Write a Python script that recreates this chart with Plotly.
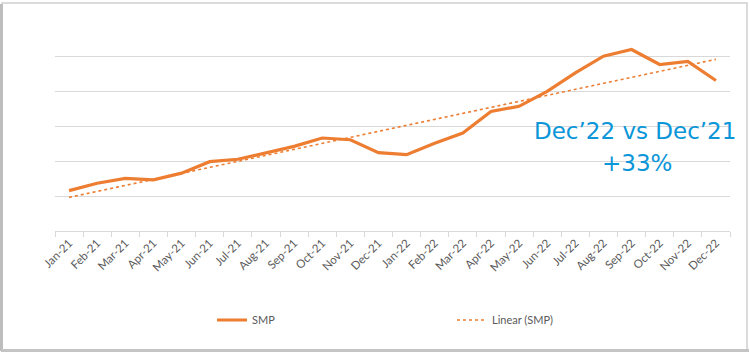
import numpy as np
import plotly.graph_objects as go

months = ["Jan-21", "Feb-21", "Mar-21", "Apr-21", "May-21", "Jun-21", "Jul-21", "Aug-21",
          "Sep-21", "Oct-21", "Nov-21", "Dec-21", "Jan-22", "Feb-22", "Mar-22", "Apr-22",
          "May-22", "Jun-22", "Jul-22", "Aug-22", "Sep-22", "Oct-22", "Nov-22", "Dec-22"]
smp = [1.16, 1.37, 1.51, 1.47, 1.66, 1.99, 2.06, 2.24, 2.43, 2.67, 2.62, 2.25,
       2.19, 2.52, 2.81, 3.43, 3.58, 4.01, 4.54, 5.02, 5.21, 4.78, 4.87, 4.32]
annotation_lines = ["Dec\u201922 vs Dec\u201921", "+33%"]

# Linear trendline (least squares), as in "Linear (SMP)"
idx = np.arange(len(smp))
slope, intercept = np.polyfit(idx, smp, 1)
trend = (slope * idx + intercept).tolist()

W, H = 750, 352
L, R, T, B = 55, 20, 22, 121
pw, ph = W - L - R, H - T - B

def px(x):
    return (x - L) / pw

def py(y):
    return (H - B - y) / ph

ORANGE = "#ED7D31"
GRID = "#D9D9D9"
TXT = "#595959"

fig = go.Figure()
fig.add_trace(go.Scatter(x=months, y=smp, mode="lines", name="SMP",
                         line=dict(color=ORANGE, width=3.2)))
fig.add_trace(go.Scatter(x=months, y=trend, mode="lines", name="Linear (SMP)",
                         line=dict(color=ORANGE, width=1.6, dash="dot")))

fig.update_layout(
    width=W, height=H,
    margin=dict(l=L, r=R, t=T, b=B),
    paper_bgcolor="white", plot_bgcolor="white",
    showlegend=True,
    legend=dict(orientation="h", x=px(212), xanchor="left", y=py(320), yanchor="middle",
                entrywidth=195, entrywidthmode="pixels",
                font=dict(family="Lato", size=11, color=TXT), bgcolor="rgba(0,0,0,0)"),
    xaxis=dict(type="category", tickangle=-45, tickson="boundaries", ticks="outside",
               ticklen=5, tickcolor=GRID, showline=True, linecolor=GRID, linewidth=1,
               showgrid=False, tickfont=dict(family="Lato", size=11.5, color=TXT),
               range=[-0.5, len(months) - 0.5], fixedrange=True),
    yaxis=dict(range=[0, 6], dtick=1, showgrid=True, gridcolor=GRID, gridwidth=1,
               showticklabels=False, zeroline=False, showline=False, fixedrange=True),
)

fig.add_annotation(xref="paper", yref="paper", x=px(635), y=py(131), text=annotation_lines[0],
                   showarrow=False, xanchor="center", yanchor="middle",
                   font=dict(family="DejaVu Sans", size=23, color="#0A96D8"))
fig.add_annotation(xref="paper", yref="paper", x=px(637), y=py(163), text=annotation_lines[1],
                   showarrow=False, xanchor="center", yanchor="middle",
                   font=dict(family="DejaVu Sans", size=23, color="#0A96D8"))

# Outer chart border
fig.add_shape(type="rect", xref="paper", yref="paper", x0=px(2), x1=px(747), y0=py(350), y1=py(3),
              line=dict(color="#CFCFCF", width=1.5), layer="below")
fig.add_shape(type="line", xref="paper", yref="paper", x0=px(1.5), x1=px(1.5), y0=py(351), y1=py(4),
              line=dict(color="#BDBDBD", width=3))
fig.add_shape(type="line", xref="paper", yref="paper", x0=px(1), x1=px(749), y0=py(350.5), y1=py(350.5),
              line=dict(color="#C4C4C4", width=3))

fig.write_html("out.html")
